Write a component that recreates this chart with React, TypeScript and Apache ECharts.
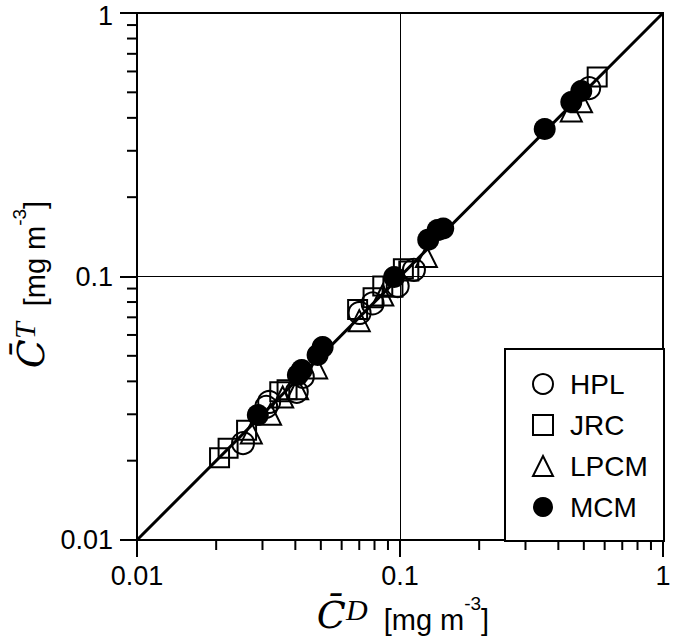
import React, { useEffect, useRef } from "react";
import * as echarts from "echarts";

// Axis ticks
const tickValues = [0.01, 0.1, 1];
const tickLabels = ["0.01", "0.1", "1"];
const minorTicks = [0.02, 0.03, 0.04, 0.05, 0.06, 0.07, 0.08, 0.09, 0.2, 0.3, 0.4, 0.5, 0.6, 0.7, 0.8, 0.9];
const oneToOne = [0.01, 1];

// Series: [C_D, C_T]
const seriesNames = ["HPL", "JRC", "LPCM", "MCM"];
const hpl = [
  [0.0253, 0.0233], [0.031, 0.032], [0.0318, 0.0334], [0.0405, 0.0365], [0.0427, 0.0416],
  [0.0702, 0.0727], [0.0787, 0.079], [0.098, 0.092], [0.113, 0.106], [0.524, 0.519],
];
const jrc = [
  [0.0206, 0.0205], [0.0222, 0.0223], [0.0261, 0.0261], [0.0349, 0.0365], [0.0372, 0.0372],
  [0.069, 0.075], [0.079, 0.083], [0.086, 0.092], [0.094, 0.091], [0.103, 0.107], [0.108, 0.105],
  [0.562, 0.572],
];
const lpcm = [
  [0.0272, 0.0255], [0.0322, 0.030], [0.0358, 0.0349], [0.0408, 0.0375], [0.0482, 0.045],
  [0.070, 0.068], [0.086, 0.085], [0.126, 0.119], [0.448, 0.425], [0.49, 0.46],
];
const mcm = [
  [0.0288, 0.0298], [0.0409, 0.0423], [0.0423, 0.0442], [0.0486, 0.0504], [0.0508, 0.054],
  [0.095, 0.0995], [0.128, 0.138], [0.139, 0.150], [0.146, 0.152], [0.355, 0.363],
  [0.448, 0.459], [0.489, 0.506],
];

const SANS = "'Liberation Sans', Arial, Helvetica, sans-serif";
const SERIF = "'Liberation Serif', 'DejaVu Serif', 'Times New Roman', serif";
const MATHC = "'DejaVu Serif', 'Liberation Serif', serif";

const richName = {
  c: { fontFamily: MATHC, fontStyle: "italic", fontSize: 38, lineHeight: 40, verticalAlign: "bottom", color: "#000" },
  s: { fontFamily: SERIF, fontStyle: "italic", fontSize: 30, lineHeight: 26, verticalAlign: "top", color: "#000" },
  n: { fontFamily: SANS, fontSize: 29, lineHeight: 35, verticalAlign: "bottom", color: "#000" },
  e: { fontFamily: SANS, fontSize: 19, lineHeight: 32, verticalAlign: "top", color: "#000" },
};

const labelIndex = (v: number) =>
  tickValues.findIndex((t) => Math.abs(Math.log10(t) - Math.log10(v)) < 1e-6);
const fmtX = (v: number) => {
  const i = labelIndex(v);
  return i >= 0 ? tickLabels[i] : "";
};
const fmtY = (v: number) => {
  const i = labelIndex(v);
  if (i < 0) return "";
  return i === tickValues.length - 1 ? `{top|${tickLabels[i]}}` : tickLabels[i];
};

const openStyle = { color: "rgba(0,0,0,0)", borderColor: "#000", borderWidth: 2, opacity: 1 };
const filledStyle = { color: "#000", borderColor: "#000", borderWidth: 0, opacity: 1 };

export default function App() {
  const ref = useRef<HTMLDivElement>(null);
  useEffect(() => {
    if (!ref.current) return;
    const chart = echarts.init(ref.current, null, { renderer: "svg" });
    const axisCommon = {
      type: "log",
      logBase: 10,
      min: 0.01,
      max: 1,
      axisLine: { show: true, lineStyle: { color: "#000", width: 2 } },
      axisTick: { show: true, inside: false, length: 17, lineStyle: { color: "#000", width: 2 } },
      minorTick: { show: false },
      splitLine: { show: true, lineStyle: { color: "#000", width: 1 } },
      nameLocation: "middle",
    };
    const labelStyle = { color: "#000", fontFamily: SANS, fontSize: 27, lineHeight: 24, margin: 24 };
    const tickSeries = (dir: "x" | "y") => ({
      type: "custom",
      coordinateSystem: "cartesian2d",
      silent: true,
      clip: false,
      z: 1,
      data: minorTicks.map((v) => (dir === "x" ? [v, oneToOne[0]] : [oneToOne[0], v])),
      renderItem: (params: any, api: any) => {
        const p = api.coord([api.value(0), api.value(1)]);
        const len = 10;
        return {
          type: "line",
          shape:
            dir === "x"
              ? { x1: p[0], y1: p[1], x2: p[0], y2: p[1] + len }
              : { x1: p[0], y1: p[1], x2: p[0] - len, y2: p[1] },
          style: { stroke: "#000", lineWidth: 2 },
        };
      },
    });
    const scatter = (name: string, data: number[][], symbol: string, size: number, style: any) => ({
      name,
      type: "scatter",
      data,
      symbol,
      symbolSize: size,
      itemStyle: style,
      z: 3,
      emphasis: { disabled: true },
    });
    chart.setOption({
      animation: false,
      backgroundColor: "#fff",
      grid: {
        left: 137, right: 25, top: 13, bottom: 100,
        containLabel: false, outerBoundsMode: "none",
        show: true, borderColor: "#000", borderWidth: 2,
      },
      xAxis: {
        ...axisCommon,
        axisLabel: { ...labelStyle, formatter: fmtX },
        name: "{c|C\u0304}{s|D}{n|  [mg m}{e|-3}{n|]}",
        nameGap: 54,
        nameTextStyle: { rich: richName, padding: [0, 0, 0, 6] },
      },
      yAxis: {
        ...axisCommon,
        axisLabel: {
          ...labelStyle,
          formatter: fmtY,
          rich: { top: { color: "#000", fontFamily: SANS, fontSize: 27, lineHeight: 24, padding: [5, 0, 0, 0] } },
        },
        name: "{c|C\u0304}{s|T}{n|  [mg m}{e|-3}{n|]}",
        nameRotate: 90,
        nameGap: 85,
        nameTextStyle: { rich: richName, padding: [0, 16, 0, 0] },
      },
      legend: {
        data: [
          { name: seriesNames[0], icon: "circle", itemStyle: openStyle },
          { name: seriesNames[1], icon: "rect", itemStyle: openStyle },
          { name: seriesNames[2], icon: "triangle", itemStyle: openStyle },
          { name: seriesNames[3], icon: "circle", itemStyle: filledStyle },
        ],
        orient: "vertical",
        left: 532,
        top: 370,
        padding: 0,
        itemWidth: 20,
        itemHeight: 20,
        itemGap: 13,
        selectedMode: false,
        z: 6,
        textStyle: { fontFamily: SANS, fontSize: 28, color: "#000", padding: [0, 0, 0, 12] },
      },
      graphic: [
        {
          type: "rect",
          left: 504,
          top: 348,
          z: 5,
          shape: { width: 159, height: 192 },
          style: { fill: "#fff", stroke: "#000", lineWidth: 2 },
        },
      ],
      series: [
        {
          type: "line",
          data: [[oneToOne[0], oneToOne[0]], [oneToOne[1], oneToOne[1]]],
          symbol: "none",
          lineStyle: { color: "#000", width: 3 },
          z: 2,
          silent: true,
        },
        tickSeries("x"),
        tickSeries("y"),
        scatter(seriesNames[0], hpl, "circle", 22, openStyle),
        scatter(seriesNames[1], jrc, "rect", 19, openStyle),
        scatter(seriesNames[2], lpcm, "triangle", 21, openStyle),
        scatter(seriesNames[3], mcm, "circle", 22, filledStyle),
      ],
    });
    return () => chart.dispose();
  }, []);
  return <div ref={ref} style={{ position: "absolute", left: 0, top: 0, width: 688, height: 640 }} />;
}
